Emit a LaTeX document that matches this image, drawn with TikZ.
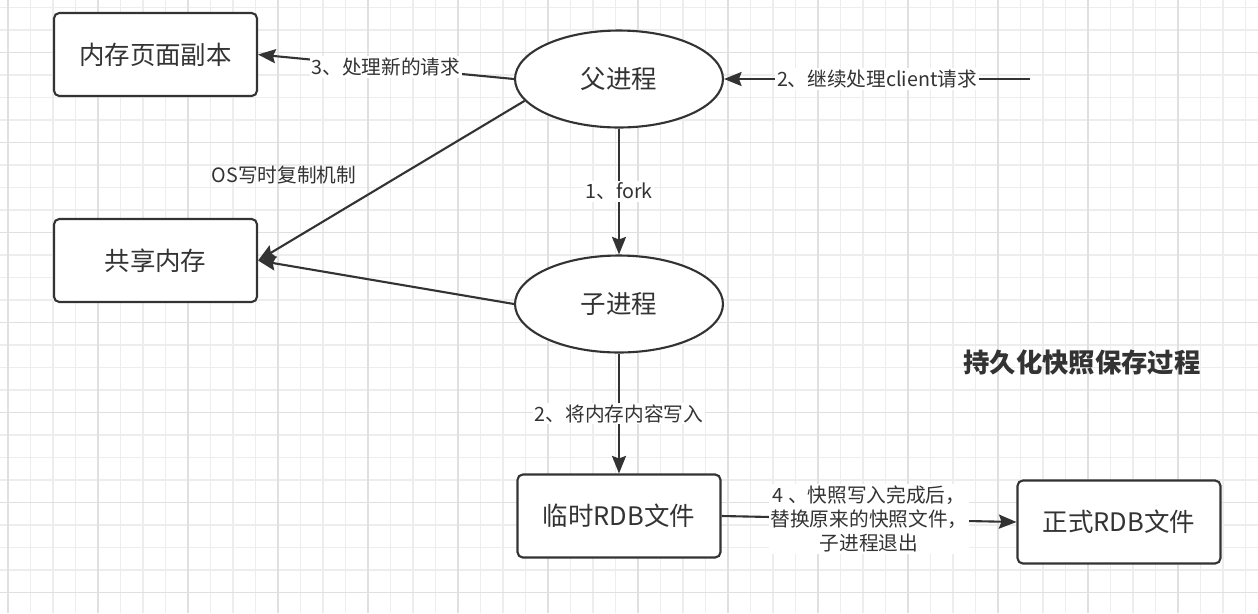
\documentclass[tikz,border=0pt]{standalone}
\usepackage{fontspec}
\setmainfont{Noto Sans CJK SC}
\usetikzlibrary{positioning,arrows.meta,shapes.geometric}
\definecolor{ink}{HTML}{333333}
\definecolor{gridMinor}{HTML}{EDEDED}
\definecolor{gridMajor}{HTML}{E0E0E0}
\tikzset{
  box/.style={rectangle, rounded corners=3pt, draw=ink, line width=1.2pt, fill=white,
              minimum width=4.06cm, minimum height=1.66cm, text=ink,
              font=\fontsize{14.5}{17}\selectfont},
  proc/.style={ellipse, draw=ink, line width=1.2pt, fill=white, inner sep=0pt,
               minimum width=4.16cm, minimum height=1.94cm, text=ink,
               font=\fontsize{14.5}{17}\selectfont},
  note/.style={fill=white, inner sep=1pt, align=center, text=ink,
               font=\fontsize{11.2}{13.6}\selectfont},
  flow/.style={-{Stealth[length=10pt,width=8pt,inset=1.5pt]}, line width=1.2pt, draw=ink}
}

\begin{document}
\begin{tikzpicture}[x=0.02cm, y=-0.02cm]
\fill[white] (0,0) rectangle (1258,613);
\useasboundingbox (0,0) rectangle (1258,613);
% grid
\foreach \gx in {8,30.5,...,1258} \draw[gridMinor, line width=0.6pt] (\gx,0) -- (\gx,613);
\foreach \gy in {7.5,30,...,613} \draw[gridMinor, line width=0.6pt] (0,\gy) -- (1258,\gy);
\foreach \gx in {8,98,...,1258} \draw[gridMajor, line width=0.6pt] (\gx,0) -- (\gx,613);
\foreach \gy in {52.5,142.5,...,613} \draw[gridMajor, line width=0.6pt] (0,\gy) -- (1258,\gy);

% nodes
\node[box] (copy) at (155.5,54.5) {内存页面副本};
\node[box] (shm) at (155.5,260.5) {共享内存};
\node[proc] (parent) at (619,79) {父进程};
\node[proc] (child) at (619,304) {子进程};
\node[box] (tmp) at (619,516) {临时RDB文件};
\node[box] (rdb) at (1119,522) {正式RDB文件};
\node[text=ink, font=\fontsize{15}{18}\selectfont\bfseries] (title) at (1082,362) {持久化快照保存过程};
\coordinate (client) at (1030,79);

% connectors
\draw[flow] (parent) -- node[note] {1、fork} (child);
\draw[flow] (child) -- node[note] {2、将内存内容写入} (tmp);
\draw[flow] (parent.west) -- node[note] {3、处理新的请求} (copy.east);
\draw[flow] (client) -- node[note] {2、继续处理client请求} (parent.east);
\draw[flow] (parent.193) -- (shm.east);
\node[note, fill=none] (cow) at (284,175) {OS写时复制机制};
\draw[flow] (child.west) -- (shm.east);
\draw[flow] (tmp.east) -- node[note] {4 、快照写入完成后，\\替换原来的快照文件，\\子进程退出} (rdb.west);
\end{tikzpicture}
\end{document}
